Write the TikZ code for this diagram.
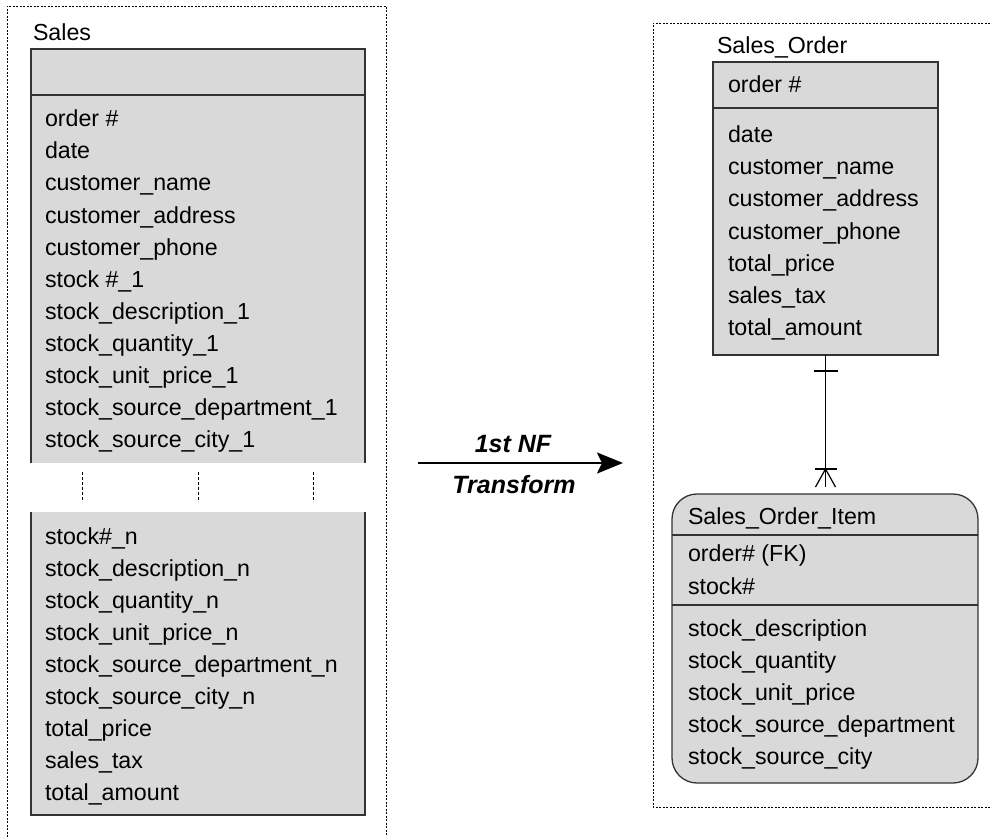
\documentclass[tikz,border=0pt]{standalone}
\usepackage{fontspec}
\setmainfont{Liberation Sans}
\usetikzlibrary{arrows.meta}
\definecolor{boxfill}{HTML}{D9D9D9}
\definecolor{boxline}{HTML}{333333}
\tikzset{
  every node/.style={inner sep=0pt, outer sep=0pt},
  row/.style={anchor=base west, font=\fontsize{23.2}{27}\selectfont},
  tblfill/.style={fill=boxfill, anchor=north west},
  tbl/.style={draw=boxline, fill=boxfill, line width=1.3pt, anchor=north west},
  bd/.style={draw=boxline, line width=1.3pt},
  frame/.style={line width=0.9pt, dash pattern=on 2pt off 1.5pt},
  gapmark/.style={line width=0.9pt, dash pattern=on 3pt off 2pt},
  rel/.style={line width=1.2pt},
  nf/.style={font=\fontsize{25}{28}\selectfont\bfseries\itshape},
}
\begin{document}
\begin{tikzpicture}[x=1pt, y=-1pt]
\useasboundingbox (0,0) rectangle (990,837);
\fill[white] (0,0) rectangle (990,837);

% ---------- left frame ----------
\draw[frame] (7,837) -- (7,6) -- (386,6) -- (386,837);

% ---------- Sales table ----------
\node[row] (salesLbl) at (33,41) {Sales};
\node[tblfill, minimum width=334pt, minimum height=414pt] (salesTop) at (31,49) {};
\node[tblfill, minimum width=334pt, minimum height=303pt] (salesBot) at (31,512) {};
\draw[bd] (salesTop.south west) -- (salesTop.north west) -- (salesTop.north east) -- (salesTop.south east);
\draw[bd] ([yshift=-46pt]salesTop.north west) -- ([yshift=-46pt]salesTop.north east);
\draw[bd] (salesBot.north west) -- (salesBot.south west) -- (salesBot.south east) -- (salesBot.north east);

\foreach \t [count=\i from 0] in {order \#, date, customer\_name, customer\_address, customer\_phone, stock \#\_1, stock\_description\_1, stock\_quantity\_1, stock\_unit\_price\_1, stock\_source\_department\_1, stock\_source\_city\_1}
  \node[row] (sa\i) at (45,127+32*\i) {\t};
\foreach \t [count=\i from 0] in {stock\#\_n, stock\_description\_n, stock\_quantity\_n, stock\_unit\_price\_n, stock\_source\_department\_n, stock\_source\_city\_n, total\_price, sales\_tax, total\_amount}
  \node[row] (sb\i) at (45,544+32*\i) {\t};

\coordinate (g1a) at (82,472); \coordinate (g1b) at (82,502);
\coordinate (g2a) at (198,472); \coordinate (g2b) at (198,502);
\coordinate (g3a) at (313,472); \coordinate (g3b) at (313,502);
\draw[gapmark] (g1a) -- (g1b);
\draw[gapmark] (g2a) -- (g2b);
\draw[gapmark] (g3a) -- (g3b);

% ---------- transform arrow ----------
\coordinate (arrS) at (418,463);
\coordinate (arrE) at (623,463);
\draw[line width=2.2pt, -{Stealth[length=26pt, width=21pt, inset=5pt]}] (arrS) -- (arrE);
\node[nf] (nf1) at (513,444) {1st NF};
\node[nf] (nf2) at (514,485) {Transform};

% ---------- right frame ----------
\draw[frame] (990,23) -- (653,23) -- (653,807) -- (990,807);

% ---------- Sales_Order ----------
\node[row] (soLbl) at (717,54) {Sales\_Order};
\node[tbl, minimum width=225pt, minimum height=293pt] (so) at (713,62) {};
\draw[bd] ([yshift=-46pt]so.north west) -- ([yshift=-46pt]so.north east);
\node[row] (so0) at (728,93) {order \#};
\foreach \t [count=\i from 0] in {date, customer\_name, customer\_address, customer\_phone, total\_price, sales\_tax, total\_amount}
  \node[row] (so\i x) at (728,143+32*\i) {\t};

% ---------- Sales_Order_Item ----------
\node[tbl, rounded corners=25pt, minimum width=306pt, minimum height=289pt] (soi) at (672,494) {};
\draw[bd] ([yshift=-41pt]soi.north west) -- ([yshift=-41pt]soi.north east);
\draw[bd] ([yshift=-111pt]soi.north west) -- ([yshift=-111pt]soi.north east);
\node[row] (soiT) at (688,524) {Sales\_Order\_Item};
\node[row] (soiK1) at (688,561) {order\# (FK)};
\node[row] (soiK2) at (688,594) {stock\#};
\foreach \t [count=\i from 0] in {stock\_description, stock\_quantity, stock\_unit\_price, stock\_source\_department, stock\_source\_city}
  \node[row] (soi\i) at (688,636+32*\i) {\t};

% ---------- relationship ----------
\coordinate (relEnd) at ([yshift=7pt]soi.north);
\coordinate (relStart) at (so.south);
\draw[rel] (relStart) -- (relStart |- relEnd);
\draw[rel] ([xshift=-12pt,yshift=-16pt]relStart) -- ([xshift=12pt,yshift=-16pt]relStart);
\draw[rel] ([xshift=-11pt,yshift=18pt]relStart |- relEnd) -- ([xshift=11pt,yshift=18pt]relStart |- relEnd);
\draw[rel] ([xshift=-10pt]relStart |- relEnd) -- ([yshift=18pt]relStart |- relEnd) -- ([xshift=10pt]relStart |- relEnd);
\end{tikzpicture}
\end{document}
